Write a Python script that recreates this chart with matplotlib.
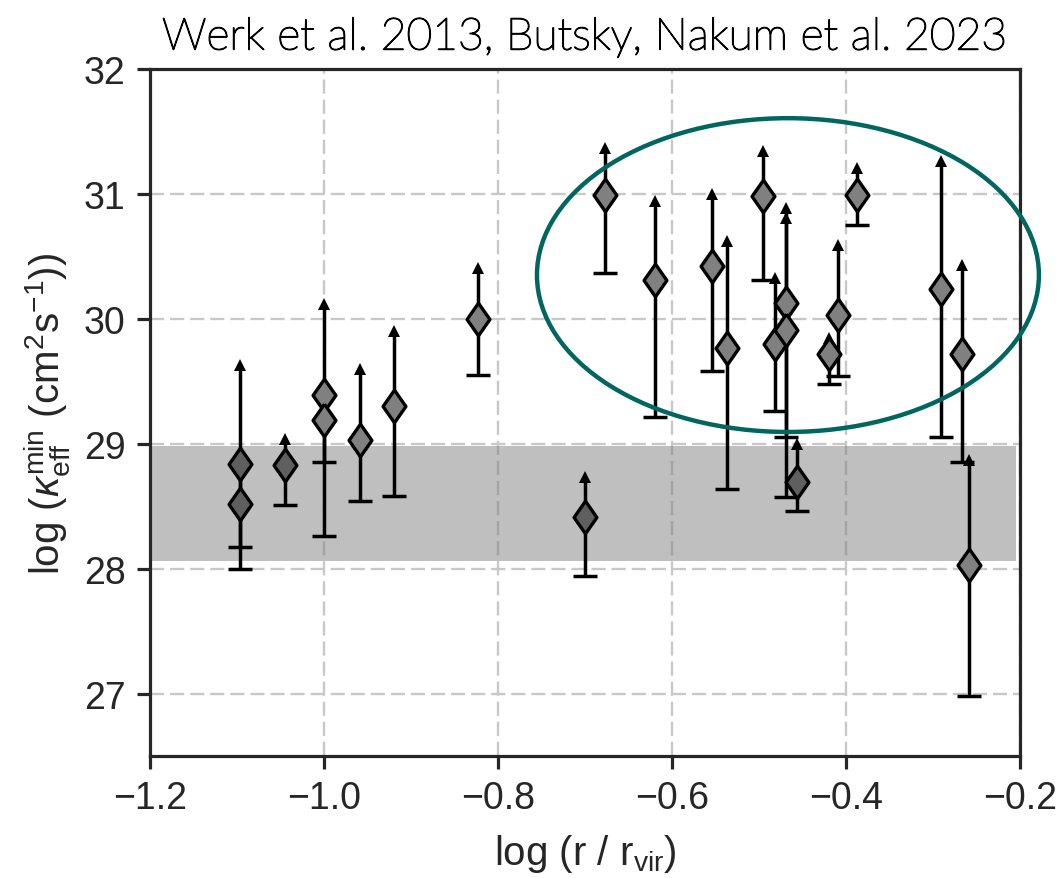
import numpy as np
import matplotlib.pyplot as plt
import matplotlib.patheffects as pe
from matplotlib.patches import Ellipse

plt.rcParams['font.family'] = ['Liberation Sans', 'DejaVu Sans']
plt.rcParams['mathtext.fontset'] = 'custom'
plt.rcParams['mathtext.rm'] = 'Liberation Sans'
plt.rcParams['mathtext.it'] = 'Liberation Sans:italic'

# log(r/r_vir) of each sightline
r_log = np.array([-1.097, -1.097, -1.045, -1.000, -1.000, -0.959, -0.920, -0.823,
                  -0.700, -0.677, -0.620, -0.554, -0.537, -0.495, -0.482, -0.469,
                  -0.469, -0.456, -0.420, -0.409, -0.387, -0.291, -0.267, -0.258])
# log kappa_eff^min and its range (lower cap, lower-limit arrow)
kappa = np.array([28.84, 28.52, 28.83, 29.39, 29.19, 29.03, 29.30, 30.00,
                  28.41, 30.99, 30.31, 30.42, 29.77, 30.98, 29.80, 30.13,
                  29.91, 28.69, 29.72, 30.03, 30.99, 30.24, 29.72, 28.03])
kappa_lo = np.array([28.17, 28.00, 28.51, 28.26, 28.85, 28.54, 28.58, 29.55,
                     27.94, 30.37, 29.21, 29.58, 28.64, 30.31, 29.26, 29.05,
                     28.57, 28.46, 29.48, 29.54, 30.75, 29.05, 28.85, 26.98])
kappa_hi = np.array([29.63, 28.80, 29.04, 30.12, 29.48, 29.60, 29.90, 30.41,
                     28.73, 31.37, 30.94, 31.00, 30.62, 31.34, 30.33, 30.89,
                     30.81, 29.00, 29.85, 30.59, 31.21, 31.26, 30.43, 28.87])
# darker symbols
dark = np.array([1, 1, 1, 0, 0, 0, 0, 0,
                 1, 0, 0, 0, 0, 0, 0, 0,
                 0, 1, 0, 0, 0, 0, 0, 0], dtype=bool)

# shaded kappa range
band_x = [-1.198, -0.204]
band_lo, band_hi = 28.06, 28.98

ink = '#262626'
diamond = [(0, 1), (0.7, 0), (0, -1), (-0.7, 0), (0, 1)]

fig = plt.figure(figsize=(10.61, 8.79), dpi=100)
ax = fig.add_axes([0.1414, 0.1388, 0.8199, 0.7816])

ax.grid(True, color='#c8c8c8', lw=1.7, linestyle=(0, (6, 2.5)))
ax.set_axisbelow(True)

ax.fill_between(band_x, band_lo, band_hi, color='#808080', alpha=0.5, lw=0, zorder=1.5)

# error bars: line, lower cap, upward arrow
ax.vlines(r_log, kappa_lo, kappa_hi, color='k', lw=2.5, zorder=2)
ax.plot(r_log, kappa_lo, ls='none', marker='_', ms=17, mew=2.5, color='k', zorder=2)
ax.plot(r_log, kappa_hi, ls='none', marker='^', ms=9, mew=0, color='k', zorder=2)

ax.plot(r_log[~dark], kappa[~dark], ls='none', marker=diamond, ms=23.5,
        mfc='#808080', mec='k', mew=2.4, zorder=3)
ax.plot(r_log[dark], kappa[dark], ls='none', marker=diamond, ms=23.5,
        mfc='#5f5f5f', mec='k', mew=2.4, zorder=3)

ax.add_patch(Ellipse((-0.4667, 30.35), 0.577, 2.512, fill=False,
                     edgecolor='#00665f', lw=3.2, zorder=4, clip_on=False))

ax.set_xlim(-1.2, -0.2)
ax.set_ylim(26.5, 32)
ax.set_xticks(np.arange(-1.2, -0.19, 0.2))
ax.set_yticks(np.arange(27, 33, 1))

for s in ax.spines.values():
    s.set_linewidth(2.3)
    s.set_color(ink)
ax.tick_params(direction='out', length=9.5, width=2.3, color=ink,
               labelcolor=ink, labelsize=27, pad=8)

ax.set_xlabel(r'log (r / r$_{\rm vir}$)', fontsize=29, color=ink, labelpad=11)
ax.set_ylabel(r'log ($\kappa_{\rm eff}^{\rm min}$ (cm$^2$s$^{-1}$))', fontsize=29,
              color=ink, labelpad=8)
ax.set_title('Werk et al. 2013, Butsky, Nakum et al. 2023', family='Lato',
             fontweight='light', fontsize=32, pad=14, color='k',
             path_effects=[pe.withStroke(linewidth=1.0, foreground='k')])

fig.savefig('out.png', dpi=100)
